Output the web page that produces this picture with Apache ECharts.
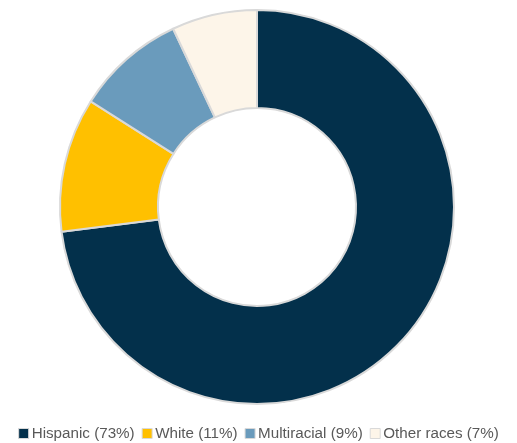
<!DOCTYPE html>
<html><head><meta charset="utf-8">
<script src="https://cdn.jsdelivr.net/npm/echarts@6/dist/echarts.min.js"></script>
<style>html,body{margin:0;padding:0;background:#fff}#c{width:517px;height:443px}</style>
</head><body><div id="c"></div>
<script>
const categories = ["Hispanic (73%)", "White (11%)", "Multiracial (9%)", "Other races (7%)"];
const values = [73, 11, 9, 7];
const colors = ["#03304B", "#FFC000", "#6A9BBC", "#FDF5E9"];
const chart = echarts.init(document.getElementById('c'));
chart.setOption({
  animation: false,
  color: colors,
  legend: {
    top: 421, left: 'center',
    icon: 'rect', itemWidth: 10, itemHeight: 10, itemGap: 7,
    textStyle: {fontFamily: 'Liberation Sans, Arial', fontSize: 15.2, color: '#595959', padding: [0,0,0,-2]},
    itemStyle: {borderColor: '#d9d9d9', borderWidth: 1},
    data: categories
  },
  series: [{
    type: 'pie',
    center: [257, 207],
    radius: [99, 197],
    startAngle: 90,
    clockwise: true,
    label: {show: false},
    labelLine: {show: false},
    itemStyle: {borderColor: '#d9d9d9', borderWidth: 2},
    emphasis: {disabled: true},
    data: categories.map((c, i) => ({name: c, value: values[i]}))
  }]
});
</script></body></html>
